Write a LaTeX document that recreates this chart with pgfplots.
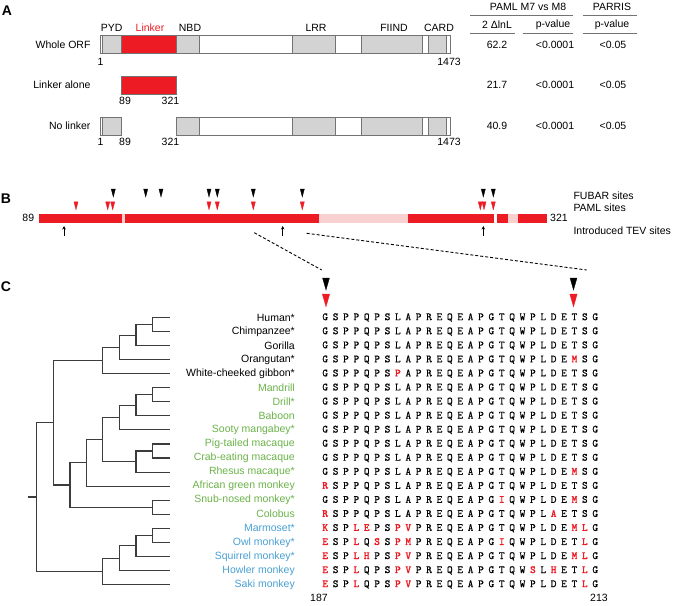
\documentclass[border=0pt]{standalone}
\usepackage{fontspec}
\setmainfont{Liberation Sans}
\usepackage{pgfplots}
\pgfplotsset{compat=1.18}
\usetikzlibrary{arrows.meta}
\definecolor{nred}{RGB}{237,28,36}
\definecolor{dgray}{RGB}{115,115,115}
\definecolor{lgray}{RGB}{211,211,211}
\definecolor{hpink}{RGB}{248,208,208}
\definecolor{treec}{RGB}{60,60,60}
\definecolor{owm}{RGB}{106,178,72}
\definecolor{nwm}{RGB}{72,160,210}
\newlength\lw \setlength\lw{10.385pt}
\def\seqrow#1{\ifx#1\relax\else\seqone{#1}\expandafter\seqrow\fi}
\def\seqone#1{\ifnum`#1>`Z\makebox[\lw]{\color{nred}\bfseries\uppercase{#1}}\else\makebox[\lw]{#1}\fi}
\newcommand{\dbox}[5]{\addplot[fill=#5, draw=dgray, line width=0.8pt] coordinates {(#1,#3) (#2,#3) (#2,#4) (#1,#4)} -- cycle;}
\newcommand{\rbar}[3]{\addplot[fill=#3, draw=none] coordinates {(#1,214) (#2,214) (#2,223.3) (#1,223.3)} -- cycle;}
\newcommand{\tx}[3][]{\node[inner sep=0,#1] at (axis cs:#2) {#3};}
\newcommand{\aln}[2]{\node[inner sep=0, anchor=west, font=\ttfamily\fontsize{11}{12}\selectfont] at (axis cs:319.8,#1) {\special{pdf:literal direct 0.07 w 2 Tr}\seqrow#2\relax\special{pdf:literal direct 0 Tr}};}
\begin{document}
\begin{tikzpicture}[font=\fontsize{10.5}{12}\selectfont]
\begin{axis}[x=1pt, y=1pt, xmin=0, xmax=674, ymin=0, ymax=605, y dir=reverse,
  hide axis, clip=false, scale only axis]
% ---------------- Panel A ----------------
\tx[font=\fontsize{14}{14}\selectfont\bfseries]{7,11}{A}
\tx{111.7,28}{PYD}
\tx[text=nred]{150,28}{Linker}
\tx{190,28}{NBD}
\tx{316,28}{LRR}
\tx{394,28}{FIIND}
\tx{439,28}{CARD}
% whole ORF
\dbox{100.7}{450.7}{35.5}{53.5}{white}
\dbox{102.3}{121}{35.5}{53.5}{lgray}
\dbox{121}{176.7}{35.5}{53.5}{nred}
\dbox{176.7}{199.3}{35.5}{53.5}{lgray}
\dbox{292.7}{335.3}{35.5}{53.5}{lgray}
\dbox{361.3}{422.3}{35.5}{53.5}{lgray}
\dbox{428}{446.7}{35.5}{53.5}{lgray}
% linker alone
\dbox{121}{176.7}{76}{94}{nred}
% no linker
\dbox{100.7}{121}{117}{135}{white}
\dbox{102.3}{121}{117}{135}{lgray}
\dbox{176.7}{450.7}{117}{135}{white}
\dbox{176.7}{199.3}{117}{135}{lgray}
\dbox{292.7}{335.3}{117}{135}{lgray}
\dbox{361.3}{422.3}{117}{135}{lgray}
\dbox{428}{446.7}{117}{135}{lgray}
\tx[anchor=east]{90.7,44.5}{Whole ORF}
\tx[anchor=east]{90.7,85}{Linker alone}
\tx[anchor=east]{90.7,126}{No linker}
\tx{100.5,62}{1}
\tx{449,62}{1473}
\tx{125,101}{89}
\tx{170.5,101}{321}
\tx{100.5,142}{1}
\tx{125,142}{89}
\tx{170.5,142}{321}
\tx{449,142}{1473}
% table
\tx{528,7}{PAML M7 vs M8}
\tx{612,7}{PARRIS}
\addplot[dgray, line width=0.7pt] coordinates {(470,15) (573,15)};
\addplot[dgray, line width=0.7pt] coordinates {(583,15) (637,15)};
\tx{497,25}{2 ΔlnL}
\tx{553,25}{p-value}
\tx{612,25}{p-value}
\addplot[dgray, line width=0.7pt] coordinates {(470,33.3) (515,33.3)};
\addplot[dgray, line width=0.7pt] coordinates {(523,33.3) (573,33.3)};
\addplot[dgray, line width=0.7pt] coordinates {(583,33.3) (637,33.3)};
\tx{497,44.5}{62.2}
\tx{555,44.5}{<0.0001}
\tx{613,44.5}{<0.05}
\tx{497,85}{21.7}
\tx{555,85}{<0.0001}
\tx{613,85}{<0.05}
\tx{497,126}{40.9}
\tx{555,126}{<0.0001}
\tx{613,126}{<0.05}
% ---------------- Panel B ----------------
\tx[font=\fontsize{14}{14}\selectfont\bfseries]{6,199}{B}
\rbar{39}{122.3}{nred}
\rbar{122.3}{124.7}{hpink}
\rbar{124.7}{319.3}{nred}
\rbar{319.3}{407.7}{hpink}
\rbar{407.7}{494.3}{nred}
\rbar{496.7}{507.7}{nred}
\rbar{507.7}{518.3}{hpink}
\rbar{518.3}{547.3}{nred}
\tx[anchor=east]{34.3,218}{89}
\tx[anchor=west]{550,218}{321}
\tx[anchor=west]{573.3,195.5}{FUBAR sites}
\tx[anchor=west]{573.3,207.5}{PAML sites}
\tx[anchor=west]{573.3,231}{Introduced TEV sites}
\addplot[only marks, mark=triangle*, mark size=5.3pt, mark options={rotate=180, xscale=0.45, fill=black, draw=black, line width=0.3pt}]
  coordinates {(113.3,191.7) (145.7,191.7) (161,191.7) (209,191.7) (217.3,191.7) (253.3,191.7) (302.3,191.7) (483.3,191.7) (493.3,191.7)};
\addplot[only marks, mark=triangle*, mark size=5.3pt, mark options={rotate=180, xscale=0.45, fill=nred, draw=nred, line width=0.3pt}]
  coordinates {(76,204.5) (107.7,204.5) (112.7,204.5) (209,204.5) (217.3,204.5) (253.3,204.5) (302.3,204.5) (480.3,204.5) (484,204.5) (493.3,204.5)};
\addplot[-{Stealth[length=3.5pt,width=3.5pt]}, line width=0.8pt] coordinates {(64,235.5) (64,226)};
\addplot[-{Stealth[length=3.5pt,width=3.5pt]}, line width=0.8pt] coordinates {(282.7,235.5) (282.7,226)};
\addplot[-{Stealth[length=3.5pt,width=3.5pt]}, line width=0.8pt] coordinates {(483.3,235.5) (483.3,226)};
\addplot[line width=0.9pt, dash pattern=on 3pt off 2pt] coordinates {(254.3,232.7) (321.7,270)};
\addplot[line width=0.9pt, dash pattern=on 3pt off 2pt] coordinates {(306.7,233.3) (586.7,270)};
% ---------------- Panel C ----------------
\tx[font=\fontsize{14}{14}\selectfont\bfseries]{6,287}{C}
\addplot[only marks, mark=triangle*, mark size=8pt, mark options={rotate=180, xscale=0.5, fill=black, draw=black, line width=0.3pt}]
  coordinates {(326,282) (573.5,282)};
\addplot[only marks, mark=triangle*, mark size=8.5pt, mark options={rotate=180, xscale=0.5, fill=nred, draw=nred, line width=0.3pt}]
  coordinates {(326,298.3) (573.5,298.3)};
% tree
\addplot[treec, line width=1.1pt] coordinates {(170,317.5) (152.3,317.5) (152.3,331.55) (170,331.55)};
\addplot[treec, line width=1.1pt] coordinates {(152.3,324.5) (136,324.5) (136,345.6) (170,345.6)};
\addplot[treec, line width=1.1pt] coordinates {(136,335.06) (119.3,335.06) (119.3,359.65) (170,359.65)};
\addplot[treec, line width=1.1pt] coordinates {(119.3,347.36) (102.7,347.36) (102.7,373.7) (170,373.7)};
\addplot[treec, line width=1.1pt] coordinates {(170,387.75) (152.3,387.75) (152.3,401.8) (170,401.8)};
\addplot[treec, line width=1.1pt] coordinates {(152.3,394.78) (136,394.78) (136,415.85) (170,415.85)};
\addplot[treec, line width=1.1pt] coordinates {(136,405.31) (119.3,405.31) (119.3,429.9) (170,429.9)};
\addplot[treec, line width=1.1pt] coordinates {(170,443.95) (152.3,443.95) (152.3,458.0) (170,458.0)};
\addplot[treec, line width=1.1pt] coordinates {(152.3,450.98) (136,450.98) (136,472.05) (170,472.05)};
\addplot[treec, line width=1.1pt] coordinates {(119.3,417.61) (102.7,417.61) (102.7,461.51) (136,461.51)};
\addplot[treec, line width=1.1pt] coordinates {(102.7,439.56) (86.7,439.56) (86.7,486.1) (170,486.1)};
\addplot[treec, line width=1.1pt] coordinates {(170,500.15) (152.3,500.15) (152.3,514.2) (170,514.2)};
\addplot[treec, line width=1.1pt] coordinates {(86.7,462.83) (70,462.83) (70,507.18) (152.3,507.18)};
\addplot[treec, line width=1.1pt] coordinates {(102.7,360.53) (53.3,360.53) (53.3,485.0) (70,485.0)};
\addplot[treec, line width=1.1pt] coordinates {(170,528.25) (152.3,528.25) (152.3,542.3) (170,542.3)};
\addplot[treec, line width=1.1pt] coordinates {(152.3,535.28) (136,535.28) (136,556.35) (170,556.35)};
\addplot[treec, line width=1.1pt] coordinates {(136,545.81) (119.3,545.81) (119.3,570.4) (170,570.4)};
\addplot[treec, line width=1.1pt] coordinates {(119.3,558.11) (102.7,558.11) (102.7,584.45) (170,584.45)};
\addplot[treec, line width=1.1pt] coordinates {(53.3,422.76) (36.7,422.76) (36.7,571.28) (102.7,571.28)};
\addplot[treec, line width=1.1pt] coordinates {(28.3,497.0) (36.7,497.0)};
% species names
\tx[anchor=east]{295,317.5}{Human*}
\tx[anchor=east]{295,331.55}{Chimpanzee*}
\tx[anchor=east]{295,345.6}{Gorilla}
\tx[anchor=east]{295,359.65}{Orangutan*}
\tx[anchor=east]{295,373.7}{White-cheeked gibbon*}
\tx[anchor=east,text=owm]{295,387.75}{Mandrill}
\tx[anchor=east,text=owm]{295,401.8}{Drill*}
\tx[anchor=east,text=owm]{295,415.85}{Baboon}
\tx[anchor=east,text=owm]{295,429.9}{Sooty mangabey*}
\tx[anchor=east,text=owm]{295,443.95}{Pig-tailed macaque}
\tx[anchor=east,text=owm]{295,458.0}{Crab-eating macaque}
\tx[anchor=east,text=owm]{295,472.05}{Rhesus macaque*}
\tx[anchor=east,text=owm]{295,486.1}{African green monkey}
\tx[anchor=east,text=owm]{295,500.15}{Snub-nosed monkey*}
\tx[anchor=east,text=owm]{295,514.2}{Colobus}
\tx[anchor=east,text=nwm]{295,528.25}{Marmoset*}
\tx[anchor=east,text=nwm]{295,542.3}{Owl monkey*}
\tx[anchor=east,text=nwm]{295,556.35}{Squirrel monkey*}
\tx[anchor=east,text=nwm]{295,570.4}{Howler monkey}
\tx[anchor=east,text=nwm]{295,584.45}{Saki monkey}
% alignment
\aln{317.5}{GSPPQPSLAPREQEAPGTQWPLDETSG}
\aln{331.55}{GSPPQPSLAPREQEAPGTQWPLDETSG}
\aln{345.6}{GSPPQPSLAPREQEAPGTQWPLDETSG}
\aln{359.65}{GSPPQPSLAPREQEAPGTQWPLDEmSG}
\aln{373.7}{GSPPQPSpAPREQEAPGTQWPLDETSG}
\aln{387.75}{GSPPQPSLAPREQEAPGTQWPLDETSG}
\aln{401.8}{GSPPQPSLAPREQEAPGTQWPLDETSG}
\aln{415.85}{GSPPQPSLAPREQEAPGTQWPLDETSG}
\aln{429.9}{GSPPQPSLAPREQEAPGTQWPLDETSG}
\aln{443.95}{GSPPQPSLAPREQEAPGTQWPLDETSG}
\aln{458.0}{GSPPQPSLAPREQEAPGTQWPLDETSG}
\aln{472.05}{GSPPQPSLAPREQEAPGTQWPLDEmSG}
\aln{486.1}{rSPPQPSLAPREQEAPGTQWPLDETSG}
\aln{500.15}{GSPPQPSLAPREQEAPGiQWPLDEmSG}
\aln{514.2}{rSPPQPSLAPREQEAPGTQWPLaETSG}
\aln{528.25}{kSPlePSpvPREQEAPGTQWPLDEmlG}
\aln{542.3}{eSPlQsSpmPREQEAPGiQWPLDETlG}
\aln{556.35}{eSPlhPSpvPREQEAPGTQWPLDEmlG}
\aln{570.4}{eSPlQPSpvPREQEAPGTQWsLhETlG}
\aln{584.45}{eSPlQPSpvPREQEAPGTQWPLDETlG}
\tx{319,597.5}{187}
\tx{599,597.5}{213}
\end{axis}
\pgfresetboundingbox
\path (0,0) rectangle (674pt,605pt);
\end{tikzpicture}
\end{document}
